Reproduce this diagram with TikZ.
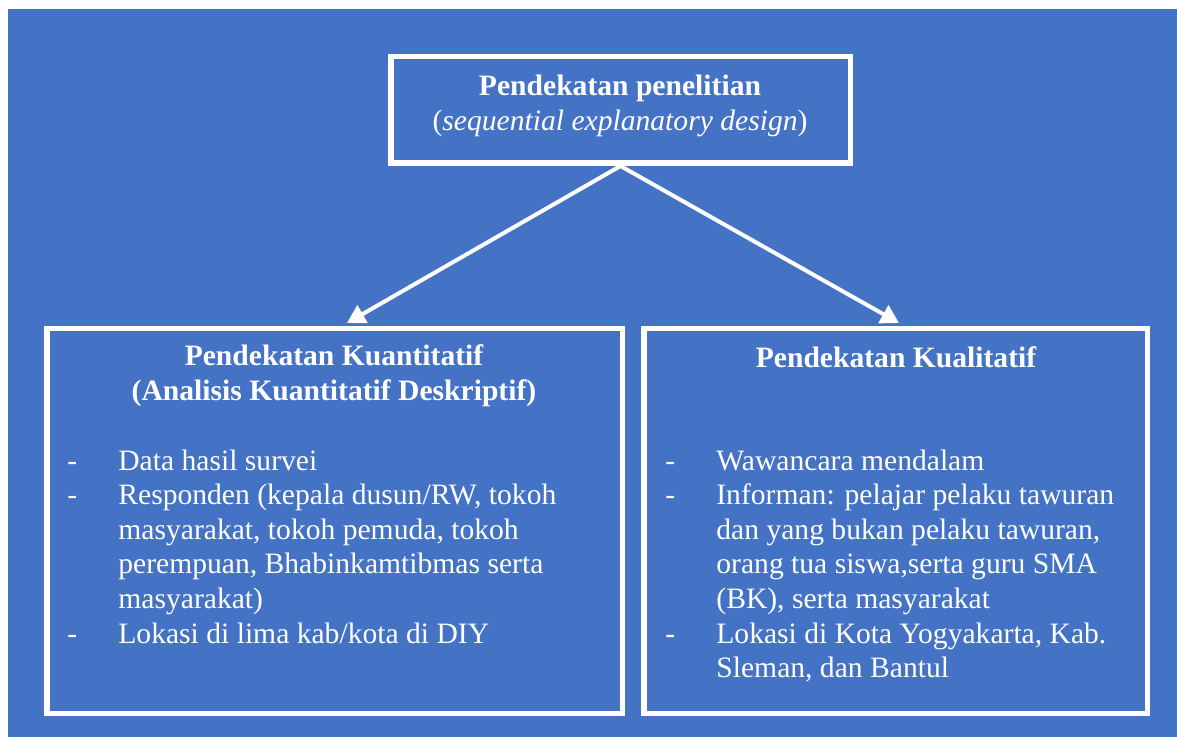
\documentclass[tikz,border=0pt]{standalone}
\usepackage{fontspec}
\setmainfont{Liberation Serif}
\usetikzlibrary{arrows.meta}
\definecolor{bgblue}{RGB}{68,114,196}
\newcommand{\diagfont}{\fontsize{14.8pt}{17.3pt}\selectfont}
\tikzset{
  box/.style={draw=white, line width=2.75pt, inner sep=0pt},
  boxtext/.style={text=white, inner sep=0pt, align=center, font=\diagfont\bfseries},
  listtext/.style={text=white, inner sep=0pt, anchor=base west},
  link/.style={draw=white, line width=2pt, -{Triangle[length=9pt,width=10pt]}}
}
\begin{document}
\begin{tikzpicture}[x=0.5pt,y=-0.5pt,font=\diagfont]
  % background
  \useasboundingbox (0,0) rectangle (1177,737);
  \fill[bgblue] (8,9) rectangle (1177,737);

  % boxes
  \node[box, minimum width=229.75pt, minimum height=53.25pt] (design) at (620.5,110) {};
  \node[box, minimum width=287.75pt, minimum height=192.25pt] (kuan) at (334.5,521) {};
  \node[box, minimum width=251.75pt, minimum height=192.25pt] (kual) at (895.5,521) {};

  % titles
  \node[boxtext] (designtitle) at (620,106)
    {Pendekatan penelitian\\{\mdseries(\textit{sequential explanatory design})}};
  \node[boxtext] (kuantitle) at (334,376)
    {Pendekatan Kuantitatif\\(Analisis Kuantitatif Deskriptif)};
  \node[boxtext] (kualtitle) at (896,357) {Pendekatan Kualitatif};

  % lists
  \node[listtext] (kuanlist) at (67,470) {\begin{tabular}[t]{@{}p{25.5pt}@{}l@{}}
    - & Data hasil survei\\
    - & Responden (kepala dusun/RW, tokoh\\
      & masyarakat, tokoh pemuda, tokoh\\
      & perempuan, Bhabinkamtibmas serta\\
      & masyarakat)\\
    - & Lokasi di lima kab/kota di DIY
  \end{tabular}};
  \node[listtext] (kuallist) at (665,470) {\begin{tabular}[t]{@{}p{25.5pt}@{}l@{}}
    - & Wawancara mendalam\\
    - & Informan: pelajar pelaku tawuran\\
      & dan yang bukan pelaku tawuran,\\
      & orang tua siswa,serta guru SMA\\
      & (BK), serta masyarakat\\
    - & Lokasi di Kota Yogyakarta, Kab.\\
      & Sleman, dan Bantul
  \end{tabular}};

  % arrows
  \coordinate (kuantip) at (347,323);
  \coordinate (kualtip) at (899,323);
  \draw[link] (design.south) -- (kuantip);
  \draw[link] (design.south) -- (kualtip);
\end{tikzpicture}
\end{document}
